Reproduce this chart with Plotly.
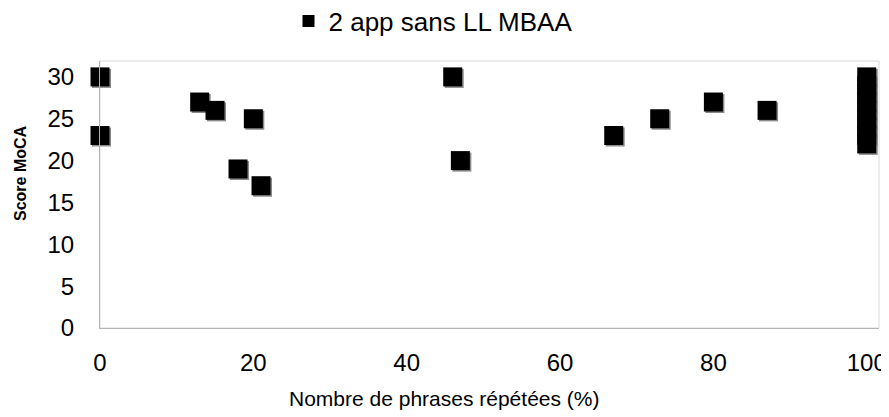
import plotly.graph_objects as go

# Data
x_phrases = [0, 0, 13, 15, 18, 20, 21, 46, 47, 67, 73, 80, 87,
             100, 100, 100, 100, 100, 100, 100, 100, 100]
y_score = [30, 23, 27, 26, 19, 25, 17, 30, 20, 23, 25, 27, 26,
           22, 23, 24, 25, 26, 27, 28, 29, 30]
series_name = "2 app sans LL MBAA"
x_title = "Nombre de phrases répétées (%)"
y_title = "Score MoCA"
x_ticks = [0, 20, 40, 60, 80, 100]
y_ticks = [0, 5, 10, 15, 20, 25, 30]

XR = [0, 101.6]
YR = [0, 31.9]
PW, PH = 779.0, 267.0
px_x = (XR[1] - XR[0]) / PW
px_y = (YR[1] - YR[0]) / PH

font = "Liberation Sans, Arial, sans-serif"

fig = go.Figure()
# shadow (base axes, shifted range -> drawn 1.5px right/down)
fig.add_trace(go.Scatter(x=x_phrases, y=y_score, mode="markers", xaxis="x", yaxis="y",
                         marker=dict(symbol="square", size=19, color="#8a8a8a"),
                         showlegend=False, hoverinfo="skip", cliponaxis=False))
# main markers on overlay axes (true scale)
fig.add_trace(go.Scatter(x=x_phrases, y=y_score, mode="markers", name=series_name,
                         xaxis="x2", yaxis="y2",
                         marker=dict(symbol="square", size=19, color="black"),
                         cliponaxis=False))

# page has an 8px body margin -> figure is 881x409 placed at (8, 8)
fig.update_layout(
    width=881, height=409,
    margin=dict(l=92, r=10, t=53, b=89, autoexpand=False),
    paper_bgcolor="white", plot_bgcolor="white",
    font=dict(family=font, color="black"),
    showlegend=True,
    legend=dict(orientation="h", x=(433 - 100) / PW, xanchor="center",
                y=(328 - 21) / PH, yanchor="middle",
                font=dict(size=26), itemsizing="constant", bgcolor="rgba(0,0,0,0)"),
    xaxis=dict(range=[XR[0] - 1.5 * px_x, XR[1] - 1.5 * px_x], visible=False),
    yaxis=dict(range=[YR[0] + 1.5 * px_y, YR[1] + 1.5 * px_y], visible=False),
    xaxis2=dict(range=XR, tickvals=x_ticks, showgrid=False, zeroline=False,
                overlaying="x", anchor="y2",
                showline=True, linecolor="#b4b4b4", linewidth=1, ticks="",
                tickfont=dict(size=24), ticklabelstandoff=13),
    yaxis2=dict(range=YR, tickvals=y_ticks, showgrid=False, zeroline=False,
                overlaying="y", anchor="x2",
                showline=True, linecolor="#b4b4b4", linewidth=1, ticks="",
                tickfont=dict(size=24), ticklabelstandoff=20),
    shapes=[dict(type="rect", xref="paper", yref="paper", x0=0, x1=1, y0=0, y1=1,
                 line=dict(color="#d9d9d9", width=1), layer="below")],
    annotations=[
        dict(text="<b>" + y_title + "</b>", xref="paper", yref="paper",
             x=(20 - 100) / PW, y=(328 - 173) / PH,
             xanchor="center", yanchor="middle", textangle=-90,
             showarrow=False, font=dict(size=16)),
        dict(text=x_title, xref="paper", yref="paper",
             x=(443.5 - 100) / PW, y=(328 - 398) / PH,
             xanchor="center", yanchor="middle",
             showarrow=False, font=dict(size=21)),
    ],
)

fig.write_html("out.html")
